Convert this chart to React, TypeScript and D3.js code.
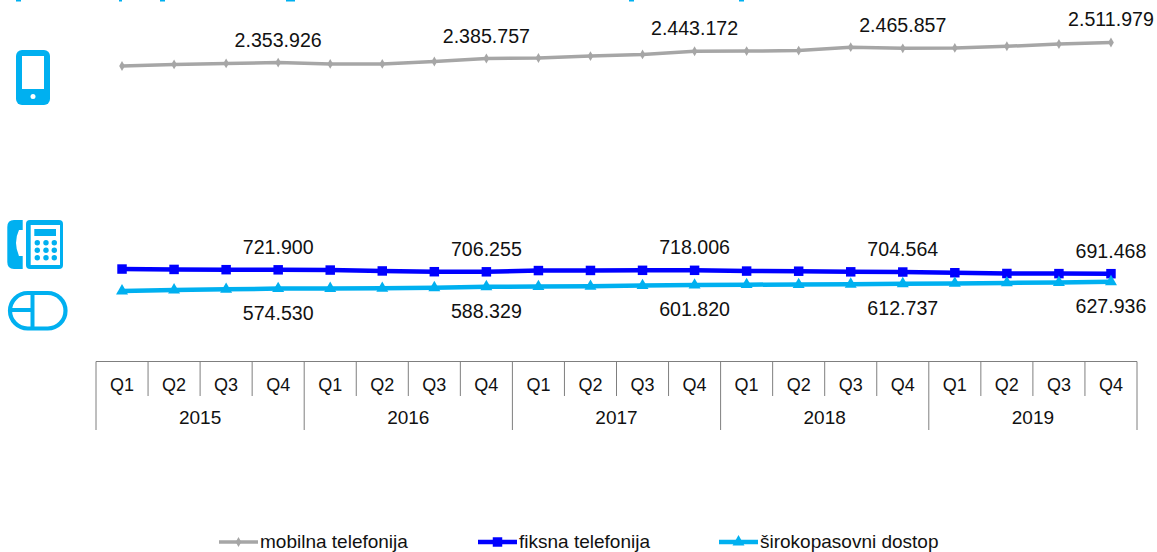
import React from "react";
import * as d3 from "d3";

const years = ["2015", "2016", "2017", "2018", "2019"];
const quarters = ["Q1", "Q2", "Q3", "Q4"];

const mobileValues = [2327000, 2339000, 2347000, 2353926, 2343000, 2343000, 2362500, 2385757, 2390000, 2405000, 2418000, 2443172, 2444000, 2448000, 2475000, 2465857, 2469000, 2482000, 2500000, 2511979];
const fixedValues = [728000, 725000, 723000, 721900, 720000, 713000, 707000, 706255, 716000, 717000, 718000, 718006, 712000, 711000, 706000, 704564, 699000, 693000, 692000, 691468];
const broadbandValues = [555000, 563000, 568000, 574530, 575000, 576000, 581000, 588329, 590000, 592000, 598000, 601820, 605000, 606000, 608000, 612737, 615000, 619000, 622000, 627936];

const mobileLabels = ["2.353.926", "2.385.757", "2.443.172", "2.465.857", "2.511.979"];
const fixedLabels = ["721.900", "706.255", "718.006", "704.564", "691.468"];
const broadbandLabels = ["574.530", "588.329", "601.820", "612.737", "627.936"];

const seriesNames = ["mobilna telefonija", "fiksna telefonija", "širokopasovni dostop"];

const GRAY = "#A6A6A6";
const BLUE = "#0000FF";
const CYAN = "#00B0F0";
const AXIS = "#7F7F7F";
const FONT = "'Liberation Sans', Arial, sans-serif";
const TEXT = "#111111";

const categories = years.flatMap((y) => quarters.map((q) => `${y}-${q}`));
const x = d3.scaleBand<string>().domain(categories).range([96, 1137]);
const y = d3.scaleLinear().domain([0, 3000000]).range([361.5, -19.5]);
const cx = (i: number) => (x(categories[i]) as number) + x.bandwidth() / 2;
const lineGen = d3.line<number>().x((_, i) => cx(i)).y((v) => y(v));

const series = [
  { values: mobileValues, labels: mobileLabels, color: GRAY, width: 3.5, symbol: d3.symbolDiamond, size: 28, dy: -16 },
  { values: fixedValues, labels: fixedLabels, color: BLUE, width: 4.5, symbol: d3.symbolSquare, size: 90, dy: -16 },
  { values: broadbandValues, labels: broadbandLabels, color: CYAN, width: 4.5, symbol: d3.symbolTriangle, size: 62, dy: 31 },
];

const legendX = [219, 478, 719];
const titleFragments = [[16, 5], [119, 3], [160, 5], [286, 9], [629, 5], [739, 5]];

function Icons() {
  return (
    <g>
      <rect x={16} y={50} width={34} height={55} rx={6} fill={CYAN} />
      <rect x={22} y={56} width={22} height={33} fill="#fff" />
      <circle cx={33} cy={96.5} r={2.5} fill="#fff" />

      <path d="M22.7 220 L14 220 Q7.3 220 7.3 227 L7.3 262 Q7.3 269 14 269 L22.7 269 L22.7 256 L19 256 Q16 249 16 243 Q16 236 19 230 L22.7 230 Z" fill={CYAN} />
      <rect x={26} y={220} width={37} height={49} rx={4} fill={CYAN} />
      <rect x={30.7} y={225} width={29.3} height={40} fill="#fff" />
      <rect x={34.3} y={229} width={21.7} height={7} fill={CYAN} />
      {[242.7, 250.3, 257.7].map((cy) =>
        [37.3, 46, 54.3].map((c) => <circle key={`${c}-${cy}`} cx={c} cy={cy} r={2.7} fill={CYAN} />)
      )}

      <rect x={10} y={293} width={55.5} height={35.5} rx={17.7} fill="none" stroke={CYAN} strokeWidth={4.2} />
      <line x1={32.5} x2={32.5} y1={293} y2={328.5} stroke={CYAN} strokeWidth={4} />
      <line x1={10} x2={32.5} y1={310} y2={310} stroke={CYAN} strokeWidth={4} />
    </g>
  );
}

export default function App() {
  const step = x.step();
  return (
    <svg
      width={1157}
      height={552}
      viewBox="0 0 1157 552"
      style={{ position: "absolute", left: 0, top: 0, background: "#fff" }}
      fontFamily={FONT}
    >
      {titleFragments.map(([fx, w]) => (
        <rect key={fx} x={fx} y={0} width={w} height={1.5} fill={CYAN} />
      ))}
      <Icons />

      {series.map((s) => (
        <g key={s.color}>
          <path d={lineGen(s.values) as string} fill="none" stroke={s.color} strokeWidth={s.width} strokeLinejoin="round" />
          {s.values.map((v, i) => (
            <path
              key={i}
              transform={`translate(${cx(i)},${y(v)})`}
              d={d3.symbol().type(s.symbol).size(s.size)() as string}
              fill={s.color}
            />
          ))}
          {s.labels.map((t, i) => {
            const idx = i * 4 + 3;
            return (
              <text key={t} x={cx(idx)} y={y(s.values[idx]) + s.dy} textAnchor="middle" fontSize={19.6} fill={TEXT}>
                {t}
              </text>
            );
          })}
        </g>
      ))}

      <line x1={96} x2={1137} y1={361.5} y2={361.5} stroke={AXIS} />
      {categories.map((c, i) => (
        <g key={c}>
          {i % 4 !== 0 && <line x1={x(c)} x2={x(c)} y1={361.5} y2={396} stroke={AXIS} />}
          <text x={cx(i)} y={391} textAnchor="middle" fontSize={18} fill={TEXT}>
            {quarters[i % 4]}
          </text>
        </g>
      ))}
      {years.map((yr, i) => {
        const left = 96 + i * 4 * step;
        return (
          <g key={yr}>
            <line x1={left} x2={left} y1={361.5} y2={430} stroke={AXIS} />
            <text x={left + 2 * step} y={424} textAnchor="middle" fontSize={19} fill={TEXT}>
              {yr}
            </text>
          </g>
        );
      })}
      <line x1={1137} x2={1137} y1={361.5} y2={430} stroke={AXIS} />

      {series.map((s, i) => (
        <g key={seriesNames[i]} transform={`translate(${legendX[i]},542)`}>
          <line x1={0} x2={39} stroke={s.color} strokeWidth={s.width} />
          <path
            transform="translate(19.5,0)"
            d={d3.symbol().type(s.symbol).size(s.size)() as string}
            fill={s.color}
          />
          <text x={41} y={6} fontSize={19} fill={TEXT}>
            {seriesNames[i]}
          </text>
        </g>
      ))}
    </svg>
  );
}
